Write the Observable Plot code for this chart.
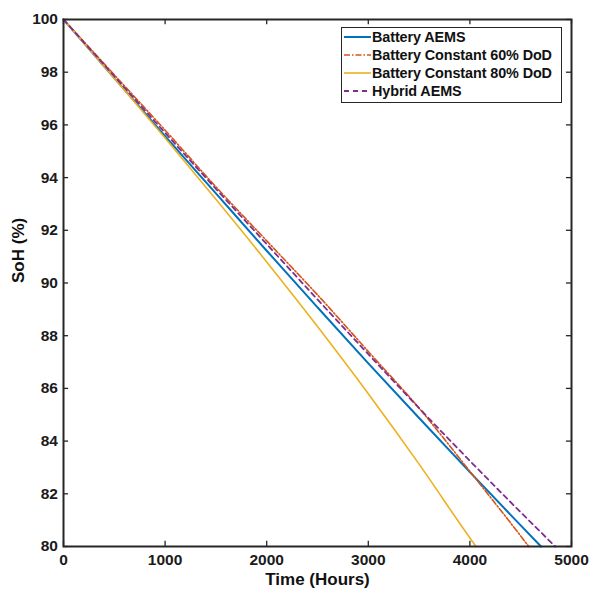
<!DOCTYPE html>
<html>
<head>
<meta charset="utf-8">
<script src="https://cdn.jsdelivr.net/npm/d3@7"></script>
<script src="https://cdn.jsdelivr.net/npm/@observablehq/plot@0.6"></script>
<style>
  html, body { margin: 0; padding: 0; background: #fff; }
  #wrap { position: relative; width: 590px; height: 594px; font-family: "Liberation Sans", Arial, sans-serif; }
  #legend { position: absolute; left: 341px; top: 27px; width: 219px; height: 74px; border: 1.6px solid #262626; background: #fff; box-sizing: content-box; }
  .row { height: 18px; display: flex; align-items: center; font-weight: bold; font-size: 14.4px; color: #111; white-space: nowrap; letter-spacing: -0.1px; }
  .row svg { margin-left: 2px; margin-right: 1px; }
</style>
</head>
<body>
<div id="wrap"><div id="chart"></div><div id="legend"></div></div>
<script>
// Time (hours) / SoH (%) points
const batteryAEMS = [[0,100],[500,97.775],[1000,95.575],[1500,93.4],[2000,91.225],[2500,89.075],[3000,86.95],[3500,84.875],[4000,82.825],[4500,80.8],[4700,80]];
const constant60 = [[0,100],[500,97.9],[1000,95.8],[1500,93.65],[2000,91.6],[2500,89.55],[3000,87.4],[3500,85.25],[4000,82.85],[4500,80.4],[4580,80]];
const constant80 = [[0,100],[500,97.775],[1000,95.5],[1500,93.175],[2000,90.8],[2500,88.35],[3000,85.8],[3500,83.125],[4000,80.325],[4060,80]];
const hybridAEMS = [[0,100],[500,97.85],[1000,95.7],[1500,93.575],[2000,91.475],[2500,89.375],[3000,87.3],[3500,85.25],[4000,83.25],[4500,81.3],[4840,80]];

const seriesNames = ["Battery AEMS", "Battery Constant 60% DoD", "Battery Constant 80% DoD", "Hybrid AEMS"];
const seriesColors = ["#0072BD", "#D95319", "#EDB120", "#7E2F8E"];
const seriesDash = [null, "6,2,1.5,2", null, "5,4"];
const seriesWidth = [2, 1.6, 1.6, 1.8];
const xTicks = [0, 1000, 2000, 3000, 4000, 5000];
const yTicks = [80, 82, 84, 86, 88, 90, 92, 94, 96, 98, 100];
const xLabel = "Time (Hours)";
const yLabel = "SoH (%)";

const allSeries = [batteryAEMS, constant60, constant80, hybridAEMS];
const font = "Liberation Sans, Arial, sans-serif";
const axisColor = "#262626";

const lineMarks = allSeries.map((s, i) => Plot.line(s, {
  x: d => d[0], y: d => d[1], curve: "monotone-x",
  stroke: seriesColors[i], strokeWidth: seriesWidth[i],
  strokeDasharray: seriesDash[i] || undefined
}));

const chart = Plot.plot({
  width: 590, height: 594,
  marginLeft: 63, marginRight: 19, marginTop: 19, marginBottom: 48,
  style: { fontFamily: font, background: "#fff", color: "#1a1a1a" },
  x: { domain: [0, 5000] },
  y: { domain: [80, 100] },
  marks: [
    // inward ticks on all four sides
    Plot.ruleX(xTicks, { x: d => d, y1: 80, y2: 80.2, stroke: axisColor, strokeWidth: 1.3 }),
    Plot.ruleX(xTicks, { x: d => d, y1: 100, y2: 99.8, stroke: axisColor, strokeWidth: 1.3 }),
    Plot.ruleY(yTicks, { y: d => d, x1: 0, x2: 50, stroke: axisColor, strokeWidth: 1.3 }),
    Plot.ruleY(yTicks, { y: d => d, x1: 5000, x2: 4950, stroke: axisColor, strokeWidth: 1.3 }),
    ...lineMarks,
    Plot.frame({ stroke: axisColor, strokeWidth: 2 }),
    Plot.axisX({ ticks: xTicks, tickSize: 0, tickPadding: 7.5, fontSize: 15.5, fontWeight: "bold", label: null, tickFormat: d => String(d) }),
    Plot.axisY({ ticks: yTicks, tickSize: 0, tickPadding: 5.5, fontSize: 15.5, fontWeight: "bold", label: null, tickFormat: d => String(d) }),
    Plot.text([xLabel], { text: d => d, frameAnchor: "bottom", dy: 38, fontSize: 17, fontWeight: "bold", fill: "#111" }),
    Plot.text([yLabel], { text: d => d, frameAnchor: "left", dx: -45, rotate: -90, fontSize: 17, fontWeight: "bold", fill: "#111" })
  ]
});
document.getElementById("chart").appendChild(chart);

// legend
const legend = document.getElementById("legend");
seriesNames.forEach((name, i) => {
  const row = document.createElement("div");
  row.className = "row";
  const dash = seriesDash[i] ? `stroke-dasharray="${seriesDash[i]}"` : "";
  row.innerHTML = `<svg width="27" height="10"><line x1="0" y1="5" x2="27" y2="5" stroke="${seriesColors[i]}" stroke-width="${seriesWidth[i]}" ${dash}/></svg><span>${name}</span>`;
  legend.appendChild(row);
});
</script>
</body>
</html>
